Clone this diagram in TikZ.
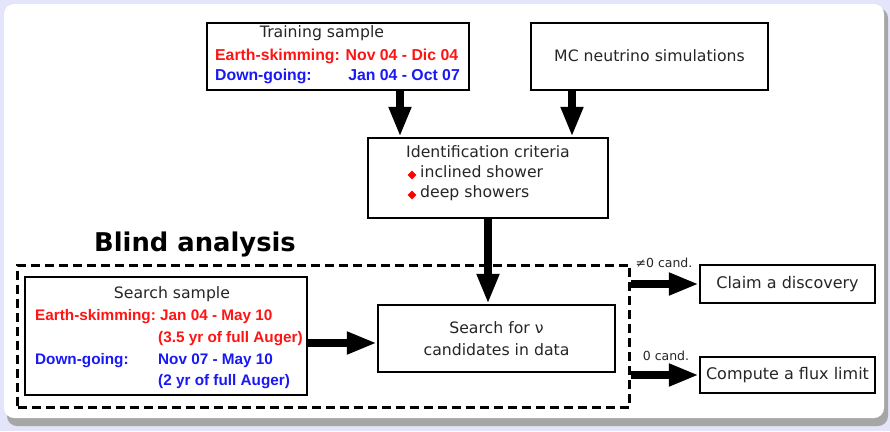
\documentclass[tikz,border=0pt]{standalone}
\usepackage{fontspec}
\setmainfont{DejaVu Sans}
\newfontfamily\arialfont{Liberation Sans}
\usetikzlibrary{arrows.meta,shapes.geometric}
\definecolor{bglav}{RGB}{228,228,250}
\definecolor{myred}{RGB}{255,20,20}
\definecolor{myblue}{RGB}{25,25,245}
\tikzset{
  box/.style={draw=black, line width=2.4pt, fill=white, inner sep=0pt},
  txt/.style={inner sep=0pt, font=\fontsize{15.7}{17}\selectfont, text=black!85},
  rtxt/.style={inner sep=0pt, font=\arialfont\bfseries\fontsize{15.8}{17}\selectfont, text=myred},
  btxt/.style={inner sep=0pt, font=\arialfont\bfseries\fontsize{15.8}{17}\selectfont, text=myblue},
  srtxt/.style={rtxt, font=\arialfont\bfseries\fontsize{15.3}{17}\selectfont},
  sbtxt/.style={btxt, font=\arialfont\bfseries\fontsize{15.3}{17}\selectfont},
  bigarrow/.style={line width=8pt, -{Triangle[width=21pt,length=30pt]}},
  bullet/.style={diamond, fill=red, inner sep=0pt, minimum size=9pt},
  small/.style={inner sep=0pt, font=\fontsize{12.5}{14}\selectfont, text=black!85},
}
\begin{document}
\begin{tikzpicture}[x=1pt,y=-1pt]
\useasboundingbox (0,0) rectangle (890,431);
\fill[bglav] (0,0) rectangle (890,431);
\fill[black!35, rounded corners=10pt] (7,8) rectangle (888,426);
\fill[white, rounded corners=10pt] (4,4) rectangle (884,418);

% top boxes
\node[box, minimum width=262pt, minimum height=67pt] (train) at (338,56.5) {};
\node[txt] (traint) at (322,33) {Training sample};
\node[rtxt, anchor=mid west] (trainr) at (215,58) {Earth-skimming: Nov 04 - Dic 04};
\node[btxt, anchor=mid west] (trainb1) at (215,78) {Down-going:};
\node[btxt, anchor=mid east] (trainb2) at (460,78) {Jan 04 - Oct 07};

\node[box, minimum width=237pt, minimum height=67pt] (mc) at (649.5,56.5) {};
\node[txt] (mct) at (649.5,56) {MC neutrino simulations};

% identification
\node[box, minimum width=240pt, minimum height=80pt] (id) at (488,178) {};
\node[txt, anchor=mid west] (idt) at (406,155) {Identification criteria};
\node[bullet] (b1) at (412,175) {};
\node[txt, anchor=mid west] (id1) at (420,175) {inclined shower};
\node[bullet] (b2) at (412,195) {};
\node[txt, anchor=mid west] (id2) at (420,195) {deep showers};

% blind analysis
\node[inner sep=0pt, font=\bfseries\fontsize{25.8}{28}\selectfont] (blind) at (195,244) {Blind analysis};
\node[draw=black, line width=3pt, dash pattern=on 9pt off 5pt, minimum width=612pt, minimum height=142pt, inner sep=0pt] (dash) at (323.5,336) {};

% search sample
\node[box, minimum width=282pt, minimum height=118pt] (ss) at (166,336) {};
\node[txt] (sst) at (172,294) {Search sample};
\node[srtxt, anchor=mid west] (ss1) at (35,318) {Earth-skimming:};
\node[srtxt, anchor=mid west] (ss2) at (160,318) {Jan 04 - May 10};
\node[srtxt, anchor=mid west] (ss3) at (158,340) {(3.5 yr of full Auger)};
\node[sbtxt, anchor=mid west] (ss4) at (35,362) {Down-going:};
\node[sbtxt, anchor=mid west] (ss5) at (158,362) {Nov 07 - May 10};
\node[sbtxt, anchor=mid west] (ss6) at (158,383) {(2 yr of full Auger)};

% search for nu
\node[box, minimum width=237pt, minimum height=67pt, align=center, font=\fontsize{15.7}{22}\selectfont, text=black!85] (snu) at (496.5,338.5) {Search for ν\\candidates in data};

% outcomes
\node[box, minimum width=175pt, minimum height=38pt, font=\fontsize{16}{17}\selectfont, text=black!85] (claim) at (787.5,284) {Claim a discovery};
\node[box, minimum width=175pt, minimum height=36pt, font=\fontsize{16}{17}\selectfont, text=black!85] (comp) at (787.5,375) {Compute a flux limit};

% arrows
\draw[bigarrow] (400,0 |- train.south) -- (400,0 |- id.north);
\draw[bigarrow] (572,0 |- mc.south) -- (572,0 |- id.north);
\draw[bigarrow] (id.south) -- (488,0 |- snu.north);
\draw[bigarrow] (ss.east |- 0,343) -- (snu.west |- 0,343);
\draw[bigarrow] (dash.east |- claim.west) -- (claim.west);
\draw[bigarrow] (dash.east |- comp.west) -- (comp.west);

\node[small] (l1) at (664,263) {≠0 cand.};
\node[small] (l2) at (666,356) {0 cand.};
\end{tikzpicture}
\end{document}
